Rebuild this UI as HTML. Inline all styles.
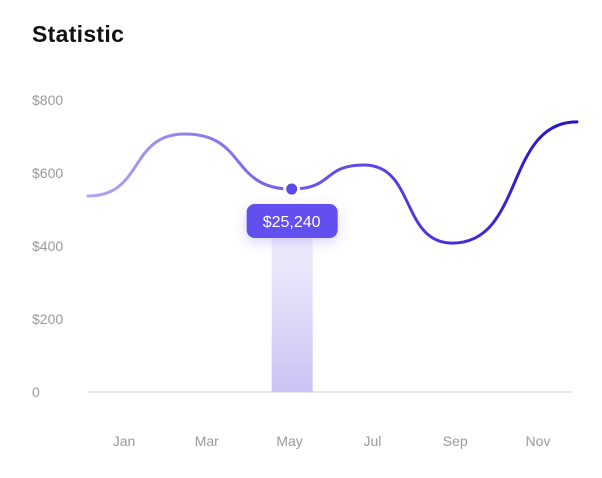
<!DOCTYPE html>
<html><head><meta charset="utf-8"><style>
html,body{margin:0;padding:0;background:#fff;}
body{width:602px;height:478px;overflow:hidden;font-family:"Liberation Sans",sans-serif;position:relative;}
#title{position:absolute;left:32px;top:21px;font-size:23px;font-weight:bold;color:#111;letter-spacing:0.3px;}
svg{position:absolute;left:0;top:0;}
</style></head><body>
<div id="title">Statistic</div>
<svg id="chart" width="602" height="478">
<defs>
<linearGradient id="lg" x1="88" y1="0" x2="578" y2="0" gradientUnits="userSpaceOnUse">
<stop offset="0" stop-color="#b3a6f7"/><stop offset="0.45" stop-color="#6a55ee"/><stop offset="1" stop-color="#2412c4"/>
</linearGradient>
<linearGradient id="bg" x1="0" y1="0" x2="0" y2="1">
<stop offset="0" stop-color="#f1eefc"/><stop offset="1" stop-color="#cbc3f5"/>
</linearGradient>
<filter id="sh" x="-50%" y="-50%" width="200%" height="200%"><feDropShadow dx="0" dy="4" stdDeviation="6" flood-color="#6450f0" flood-opacity="0.25"/></filter>
</defs>
</svg>
<script>
const monthLabels=["Jan","Mar","May","Jul","Sep","Nov"];
const monthIdx=[0,2,4,6,8,10];
const yTicks=[0,200,400,600,800];
const yTickLabels=["0","$200","$400","$600","$800"];
const pointMonths=[-0.87,1.47,4.05,5.8,7.93,10.94];
const pointValues=[537,707,556,622,408,740];
const highlightIdx=2;
const tooltipText="$25,240";

const NS="http://www.w3.org/2000/svg";
const svg=document.getElementById('chart');
const x=m=>124+m*41.4;
const y=v=>392-v*73/200;
function el(t,a){const e=document.createElementNS(NS,t);for(const k in a)e.setAttribute(k,a[k]);svg.appendChild(e);return e;}

yTicks.forEach((v,i)=>{
  const t=el('text',{x:32,y:y(v)+5,'font-size':14,fill:'#9a9a9a','font-family':'Liberation Sans, sans-serif'});
  t.textContent=yTickLabels[i];
  
  
});
const base=el('line',{x1:88,x2:572,y1:y(0),y2:y(0),stroke:'#e6e6e6','stroke-width':2});


monthLabels.forEach((m,i)=>{
  const t=el('text',{x:x(monthIdx[i]),y:446,'font-size':14,fill:'#9a9a9a','text-anchor':'middle','font-family':'Liberation Sans, sans-serif'});
  t.textContent=m;
  
  
});

const hx=x(pointMonths[highlightIdx]), hy=y(pointValues[highlightIdx]);
const bar=el('rect',{x:hx-20,y:238,width:41,height:y(0)-238,fill:'url(#bg)'});



let d='M'+x(pointMonths[0])+','+y(pointValues[0]);
for(let i=1;i<pointMonths.length;i++){
  const x0=x(pointMonths[i-1]),y0=y(pointValues[i-1]),x1=x(pointMonths[i]),y1=y(pointValues[i]);
  const dx=(x1-x0)*0.58;
  d+=` C${x0+dx},${y0} ${x1-dx},${y1} ${x1},${y1}`;
}
const line=el('path',{d:d,fill:'none',stroke:'url(#lg)','stroke-width':3,'stroke-linecap':'round'});



const dot=el('circle',{cx:hx,cy:hy,r:7,fill:'#5b49ea',stroke:'#fff','stroke-width':3});



const tip=el('rect',{x:hx-45,y:204,width:91,height:34,rx:8,fill:'#6450f0',filter:'url(#sh)'});


const tt=el('text',{x:hx,y:227,'font-size':16,fill:'#fff','text-anchor':'middle','font-family':'Liberation Sans, sans-serif'});
tt.textContent=tooltipText;


</script>
</body></html>
